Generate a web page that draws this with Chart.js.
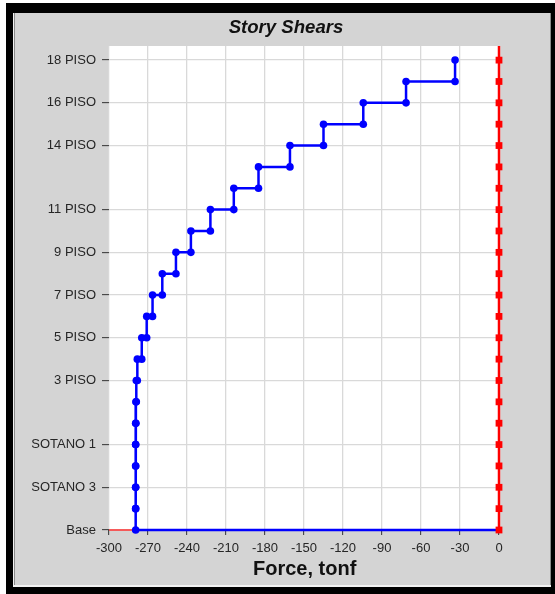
<!DOCTYPE html>
<html><head><meta charset="utf-8">
<script src="https://cdn.jsdelivr.net/npm/chart.js@4/dist/chart.umd.min.js"></script>
<style>
html,body{margin:0;padding:0;background:#fff;width:555px;height:594px;overflow:hidden}
#frame{position:absolute;left:6px;top:3px;width:549px;height:591px;background:#000}
#panel{position:absolute;left:13px;top:13px;width:538px;height:574px;background:#d4d4d4;box-sizing:border-box;border-left:1px solid #f2f2f2;border-bottom:2px solid #f2f2f2;box-shadow:inset 1px 0 0 #8a8a8a, inset -1px 0 0 #8a8a8a}
#wrap{position:absolute;left:0;top:0;width:555px;height:594px}
</style></head><body>
<div id="frame"></div><div id="panel"></div>
<div id="wrap"><canvas id="c" width="555" height="594"></canvas></div>
<script>
// ---- data ----
const storyNames = ["Base","SOTANO 4","SOTANO 3","SOTANO 2","SOTANO 1",
  "1 PISO","2 PISO","3 PISO","4 PISO","5 PISO","6 PISO","7 PISO","8 PISO","9 PISO",
  "10 PISO","11 PISO","12 PISO","13 PISO","14 PISO","15 PISO","16 PISO","17 PISO","18 PISO"];
const labelledLevels = [0,2,4,7,9,11,13,15,18,20,22];
// story shear (X), story 1 (SOTANO 4) ... story 22 (18 PISO), tonf
const storyShearX = [-279.5,-279.5,-279.5,-279.5,-279.5,-279.3,-279.0,-278.2,-274.8,-271.0,
  -266.5,-259.0,-248.5,-237.0,-222.0,-204.0,-185.0,-160.8,-135.0,-104.4,-71.5,-33.8];
// story shear (Y) at each level, Base ... 18 PISO
const storyShearY = [0,0,0,0,0,0,0,0,0,0,0,0,0,0,0,0,0,0,0,0,0,0,0];
const baseShearEnd = 0;
const xTickValues = [-300,-270,-240,-210,-180,-150,-120,-90,-60,-30,0];
const xMin = -300, xMax = 1, yMin = 0, yMax = 22.66;

// ---- build series ----
const bluePts = [];
for (let L = storyShearX.length; L >= 1; L--) {
  const v = storyShearX[L-1];
  bluePts.push({x:v, y:L});
  bluePts.push({x:v, y:L-1});
}
bluePts.push({x:baseShearEnd, y:0});
const redPts = storyShearY.map((v,i)=>({x:v, y:i}));
redPts.push({x:storyShearY[storyShearY.length-1], y:yMax});
const redBase = [{x:xMin, y:0},{x:storyShearY[0], y:0}];

const FONT = '"Liberation Sans", Arial, sans-serif';
const whiteArea = {
  id:'whiteArea',
  afterLayout(chart){ chart.scales.y.left = 0; },
  beforeDraw(chart){
    const {ctx, chartArea:a} = chart;
    ctx.save(); ctx.fillStyle = '#fff';
    ctx.fillRect(a.left, a.top, a.right-a.left, a.bottom-a.top);
    ctx.restore();
  }
};

new Chart(document.getElementById('c'), {
  type:'line',
  data:{datasets:[
    {data:redPts, borderColor:'#ff0000', backgroundColor:'#ff0000', borderWidth:2.5,
     pointStyle:'rect', pointRadius:(c)=> c.dataIndex === redPts.length-1 ? 0 : 4.8,
     pointBorderWidth:0, clip:false, order:0},
    {data:bluePts, borderColor:'#0000ff', backgroundColor:'#0000ff', borderWidth:2.5,
     pointStyle:'circle', pointRadius:(c)=> c.dataIndex === bluePts.length-1 ? 0 : 3.8,
     pointBorderWidth:0, clip:false, order:1},
    {data:redBase, borderColor:'#ff3030', borderWidth:1.5, pointRadius:0, clip:false, order:2}
  ]},
  options:{
    responsive:false, animation:false, parsing:true,
    layout:{padding:{left:71.7, right:54.7, top:0, bottom:0}},
    plugins:{
      legend:{display:false}, tooltip:{enabled:false},
      title:{display:true, text:'Story Shears', color:'#111',
        font:{family:FONT, size:18.6, weight:'bold', style:'italic'},
        padding:{top:16.8, bottom:6.9}}
    },
    scales:{
      x:{type:'linear', min:xMin, max:xMax,
        afterBuildTicks:(s)=>{ s.ticks = xTickValues.map(v=>({value:v})); },
        afterFit:(s)=>{ s.height = 64; },
        ticks:{font:{family:FONT, size:13}, color:'#262626', padding:6, maxRotation:0, autoSkip:false},
        grid:{color:'#d9d9d9', lineWidth:1.3, tickLength:5, tickColor:'#333', tickWidth:1},
        border:{display:false},
        title:{display:true, text:'Force, tonf', color:'#111',
          font:{family:FONT, size:20, weight:'bold'}, padding:{top:0, bottom:13}}
      },
      y:{type:'linear', min:yMin, max:yMax,
        afterBuildTicks:(s)=>{ s.ticks = labelledLevels.map(v=>({value:v})); },
        afterFit:(s)=>{ s.width = 37.3; },
        ticks:{font:{family:FONT, size:13}, color:'#262626', padding:6, autoSkip:false,
          callback:(v)=> storyNames[v]},
        grid:{color:'#d9d9d9', lineWidth:1.3, tickLength:7, tickColor:'#333', tickWidth:1},
        border:{display:false}
      }
    }
  },
  plugins:[whiteArea]
});
</script>
</body></html>
